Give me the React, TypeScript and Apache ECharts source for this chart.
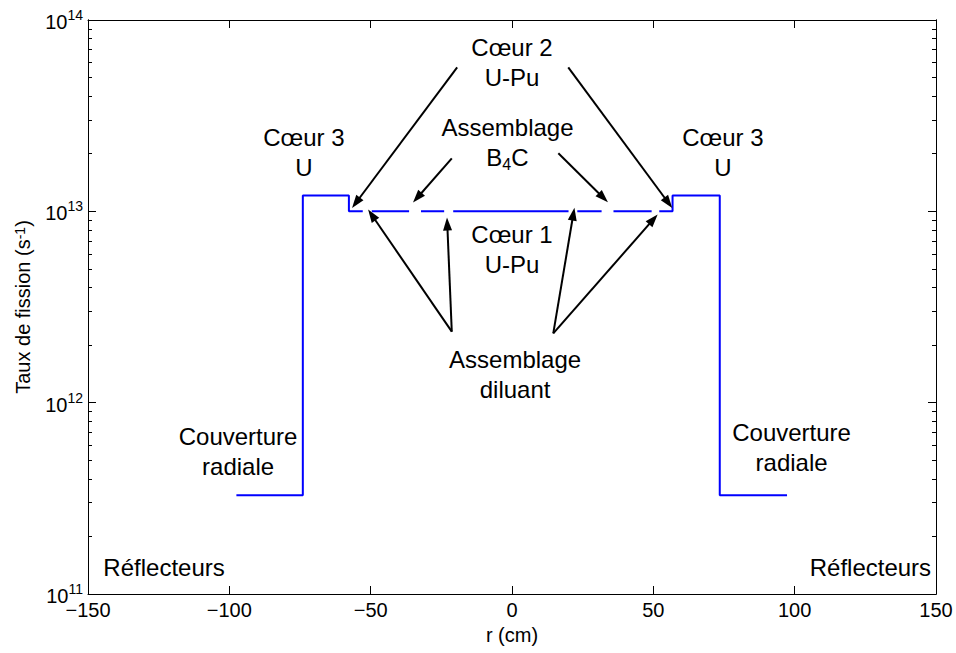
import React, { useEffect, useRef } from "react";
import * as echarts from "echarts";

// Radial position (cm) and fission rate (s^-1); null = gap (assembly positions)
const radiusCm = [
  -97.5, -74, -74, -57.7, -57.7, -52.8, null,
  -49.6, -36.4, null,
  -32.2, -24, null,
  -20.8, 20, null,
  23.1, 31.7, null,
  35.9, 49.4, null,
  52.1, 56.8, 56.8, 73.5, 73.5, 97.3,
];
const fissionRate = [
  3.28e11, 3.28e11, 1.21e13, 1.21e13, 1e13, 1e13, null,
  1e13, 1e13, null,
  1e13, 1e13, null,
  1e13, 1e13, null,
  1e13, 1e13, null,
  1e13, 1e13, null,
  1e13, 1e13, 1.21e13, 1.21e13, 3.28e11, 3.28e11,
];

const xTicks = [-150, -100, -50, 0, 50, 100, 150];
const yMajorTicks = [1e11, 1e12, 1e13, 1e14];
const yMinorTicks = [
  2e11, 3e11, 4e11, 5e11, 6e11, 7e11, 8e11, 9e11,
  2e12, 3e12, 4e12, 5e12, 6e12, 7e12, 8e12, 9e12,
  2e13, 3e13, 4e13, 5e13, 6e13, 7e13, 8e13, 9e13,
];

// Annotation arrows: from (x1, y1) to (x2, y2) in data coordinates (arrow head at the end)
const arrowFromX = [-19.4, 19.9, -21.3, 16.4, -21.3, -21.3, 14.6, 14.6];
const arrowFromY = [5.66e13, 5.66e13, 1.89e13, 2.01e13, 2.35e12, 2.35e12, 2.3e12, 2.3e12];
const arrowToX = [-55.2, 55.3, -33.5, 32.3, -49.6, -22.9, 21.7, 50.0];
const arrowToY = [1.109e13, 1.109e13, 1.178e13, 1.178e13, 9.57e12, 8.59e12, 9.68e12, 9.08e12];

// Annotation labels (centre in data coordinates)
const labelTexts = [
  "Cœur 2\nU-Pu",
  "Assemblage\nB{sub|4}C",
  "Cœur 1\nU-Pu",
  "Assemblage\ndiluant",
  "Cœur 3\nU",
  "Cœur 3\nU",
  "Couverture\nradiale",
  "Couverture\nradiale",
  "Réflecteurs",
  "Réflecteurs",
];
const labelX = [0, -1.6, 0, 1.1, -73.6, 74.6, -96.9, 98.9, -123.1, 126.8];
const labelY = [6.0e13, 2.29e13, 6.28e12, 1.4e12, 2.02e13, 2.02e13, 5.56e11, 5.86e11, 1.38e11, 1.38e11];

const FONT = "Liberation Sans, Arial, sans-serif";

export default function App() {
  const ref = useRef<HTMLDivElement>(null);

  useEffect(() => {
    if (!ref.current) return;
    const chart = echarts.init(ref.current, null, { renderer: "svg" });

    const seriesData = radiusCm.map((r, i) => [r, fissionRate[i]]);
    const arrows = arrowFromX.map((x, i) => [
      { coord: [x, arrowFromY[i]], symbol: "none" },
      { coord: [arrowToX[i], arrowToY[i]], symbol: "triangle", symbolSize: [9, 13] },
    ]);

    const axisLineStyle = { color: "#000", width: 1 };
    const supRich = {
      b: { fontSize: 20, fontFamily: FONT, color: "#000", lineHeight: 24, verticalAlign: "bottom" },
      s: { fontSize: 14, fontFamily: FONT, color: "#000", lineHeight: 14, verticalAlign: "top" },
    };

    const logAxisBase = {
      type: "log",
      logBase: 10,
      min: 1e11,
      max: 1e14,
      splitLine: { show: false },
      axisLine: { show: true, onZero: false, lineStyle: axisLineStyle },
    };

    chart.setOption({
      animation: false,
      backgroundColor: "#fff",
      grid: { left: 88, right: 20, top: 20, bottom: 59, containLabel: false },
      xAxis: [
        {
          type: "value",
          min: -150,
          max: 150,
          interval: 50,
          position: "bottom",
          splitLine: { show: false },
          axisLine: { show: true, onZero: false, lineStyle: axisLineStyle },
          axisTick: { show: true, inside: true, length: 8, lineStyle: axisLineStyle },
          axisLabel: {
            show: true,
            fontSize: 20,
            fontFamily: FONT,
            color: "#000",
            margin: 6,
            customValues: xTicks,
            formatter: (v: number) => (v < 0 ? "\u2212" + Math.abs(v) : String(v)),
          },
          name: "r (cm)",
          nameLocation: "middle",
          nameGap: 31,
          nameTextStyle: { fontSize: 20, fontFamily: FONT, color: "#000" },
        },
        {
          type: "value",
          min: -150,
          max: 150,
          interval: 50,
          position: "top",
          splitLine: { show: false },
          axisLine: { show: true, onZero: false, lineStyle: axisLineStyle },
          axisTick: { show: true, inside: true, length: 8, lineStyle: axisLineStyle },
          axisLabel: { show: false },
        },
      ],
      yAxis: [
        {
          ...logAxisBase,
          position: "left",
          axisTick: { show: true, inside: true, length: 8, lineStyle: axisLineStyle, customValues: yMajorTicks },
          axisLabel: {
            show: true,
            margin: 5,
            fontSize: 20,
            fontFamily: FONT,
            color: "#000",
            customValues: yMajorTicks,
            formatter: (v: number) => `{b|10}{s|${Math.round(Math.log10(v))}}`,
            rich: supRich,
          },
          name: "Taux de fission (s{s|-1})",
          nameLocation: "middle",
          nameGap: 55,
          nameTextStyle: { fontSize: 20, fontFamily: FONT, color: "#000", rich: supRich },
        },
        {
          ...logAxisBase,
          position: "left",
          axisTick: { show: true, inside: true, length: 4, lineStyle: axisLineStyle, customValues: yMinorTicks },
          axisLabel: { show: false },
        },
        {
          ...logAxisBase,
          position: "right",
          axisTick: { show: true, inside: true, length: 8, lineStyle: axisLineStyle, customValues: yMajorTicks },
          axisLabel: { show: false },
        },
        {
          ...logAxisBase,
          position: "right",
          axisTick: { show: true, inside: true, length: 4, lineStyle: axisLineStyle, customValues: yMinorTicks },
          axisLabel: { show: false },
        },
      ],
      series: [
        {
          type: "line",
          xAxisIndex: 0,
          yAxisIndex: 0,
          data: seriesData,
          showSymbol: false,
          symbol: "none",
          connectNulls: false,
          lineStyle: { color: "#0000ff", width: 2 },
          itemStyle: { color: "#0000ff" },
          silent: true,
          markLine: {
            silent: true,
            animation: false,
            label: { show: false },
            lineStyle: { color: "#000", width: 2, type: "solid" },
            itemStyle: { color: "#000" },
            emphasis: { disabled: true },
            data: arrows,
          },
        },
      ],
    });

    const graphics = labelTexts.map((t, i) => {
      const p = chart.convertToPixel({ xAxisIndex: 0, yAxisIndex: 0 }, [labelX[i], labelY[i]]);
      return {
        type: "text",
        x: p[0],
        y: p[1],
        silent: true,
        style: {
          text: t,
          fontSize: 24,
          fontFamily: FONT,
          fill: "#000",
          align: "center",
          verticalAlign: "middle",
          lineHeight: 30,
          rich: {
            sub: { fontSize: 16, fontFamily: FONT, fill: "#000", lineHeight: 22, verticalAlign: "bottom" },
          },
        },
      };
    });
    chart.setOption({ graphic: graphics });

    return () => chart.dispose();
  }, []);

  return (
    <div
      ref={ref}
      style={{ position: "fixed", left: 0, top: 0, width: 956, height: 653, background: "#fff" }}
    />
  );
}
